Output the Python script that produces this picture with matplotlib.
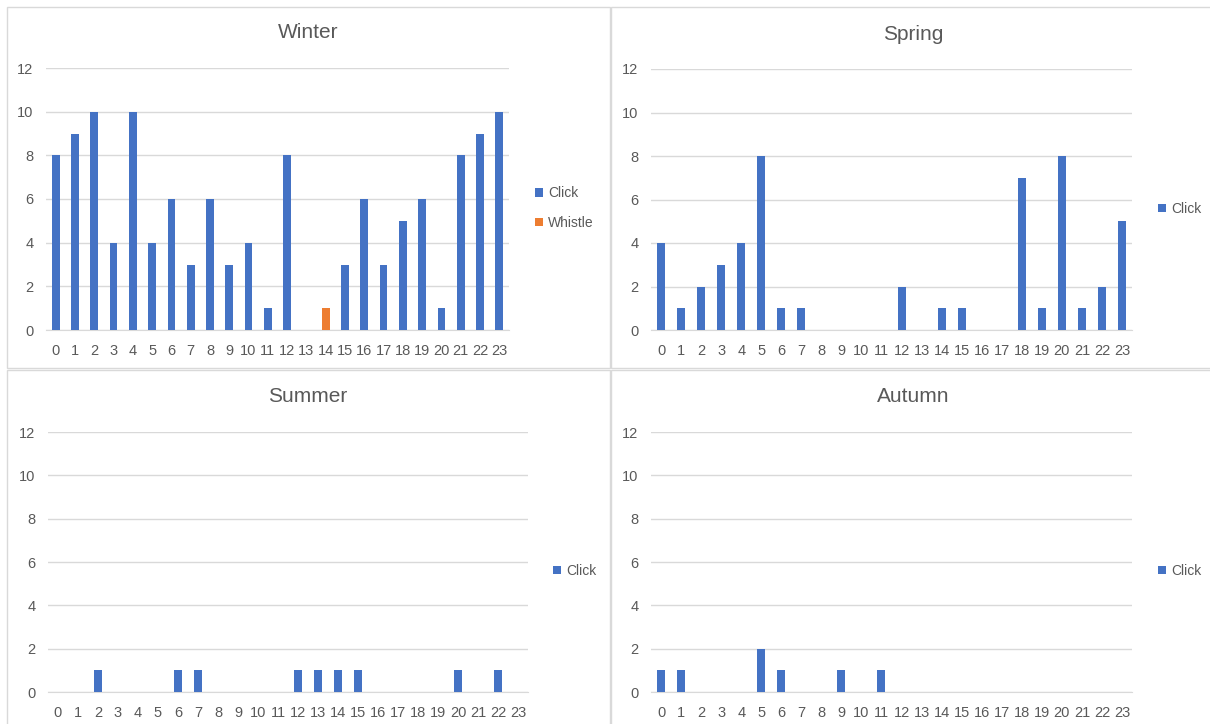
import matplotlib.pyplot as plt
from matplotlib.patches import Rectangle

# hourly detection counts per season
hours = list(range(24))
winter_click = [8, 9, 10, 4, 10, 4, 6, 3, 6, 3, 4, 1, 8, 0, 0, 3, 6, 3, 5, 6, 1, 8, 9, 10]
winter_whistle = [0, 0, 0, 0, 0, 0, 0, 0, 0, 0, 0, 0, 0, 0, 1, 0, 0, 0, 0, 0, 0, 0, 0, 0]
spring_click = [4, 1, 2, 3, 4, 8, 1, 1, 0, 0, 0, 0, 2, 0, 1, 1, 0, 0, 7, 1, 8, 1, 2, 5]
summer_click = [0, 0, 1, 0, 0, 0, 1, 1, 0, 0, 0, 0, 1, 1, 1, 1, 0, 0, 0, 0, 1, 0, 1, 0]
autumn_click = [1, 1, 0, 0, 0, 2, 1, 0, 0, 1, 0, 1, 0, 0, 0, 0, 0, 0, 0, 0, 0, 0, 0, 0]

BLUE = '#4472C4'
ORANGE = '#ED7D31'
TEXT = '#595959'
GRID = '#d9d9d9'
FONT = ['Liberation Sans Narrow', 'Liberation Sans', 'DejaVu Sans']

W, H = 1210, 724
fig = plt.figure(figsize=(W / 100, H / 100), dpi=100)
plt.rcParams['font.family'] = FONT


def px_axes(x0, x1, ytop, ybot):
    return fig.add_axes([x0 / W, 1 - ybot / H, (x1 - x0) / W, (ybot - ytop) / H])


def fig_xy(x, y):
    return x / W, 1 - y / H


# panel frames
for (x0, y0, x1, y1) in [(7, 7, 610, 368), (611, 7, 1215, 368),
                         (7, 370, 610, 730), (611, 370, 1215, 730)]:
    fig.patches.append(Rectangle((x0 / W, 1 - y1 / H), (x1 - x0) / W, (y1 - y0) / H,
                                 transform=fig.transFigure, fill=False,
                                 edgecolor=GRID, linewidth=1.0))

panels = [
    ('Winter', (46, 509, 68, 330), [('Click', winter_click, BLUE), ('Whistle', winter_whistle, ORANGE)],
     (308, 33), (535, 208)),
    ('Spring', (651, 1132, 69, 330), [('Click', spring_click, BLUE)], (913, 35), (1158, 209)),
    ('Summer', (48, 528, 432, 692), [('Click', summer_click, BLUE)], (308, 397), (553, 571)),
    ('Autumn', (651, 1132, 432, 692), [('Click', autumn_click, BLUE)], (913, 397), (1158, 571)),
]

for title, box, series, tpos, lpos in panels:
    ax = px_axes(*box)
    handles = []
    for name, vals, col in series:
        b = ax.bar(hours, vals, width=0.4, color=col, label=name, zorder=3)
        handles.append(b)
    ax.set_xlim(-0.5, 23.5)
    ax.set_ylim(0, 12)
    ax.set_yticks(range(0, 13, 2))
    ax.set_xticks(hours)
    ax.set_xticklabels([str(h) for h in hours])
    ax.yaxis.grid(True, color=GRID, linewidth=1.0, zorder=0)
    ax.set_axisbelow(True)
    for s in ['top', 'right', 'left']:
        ax.spines[s].set_visible(False)
    ax.spines['bottom'].set_color(GRID)
    ax.tick_params(length=0, labelsize=10.5, colors=TEXT)
    ax.tick_params(axis='y', pad=9)
    ax.tick_params(axis='x', pad=10)
    fx, fy = fig_xy(*tpos)
    fig.text(fx, fy, title, ha='center', va='center', fontsize=15, color=TEXT,
             family=FONT)
    lx, ly = fig_xy(*lpos)
    fig.legend(handles=handles, loc='center left', bbox_to_anchor=(lx, ly),
               frameon=False, fontsize=10, labelcolor=TEXT, handlelength=0.55,
               handleheight=0.55, handletextpad=0.4, labelspacing=1.1,
               borderaxespad=0, borderpad=0)

fig.savefig('out.png', dpi=100, facecolor='white')
